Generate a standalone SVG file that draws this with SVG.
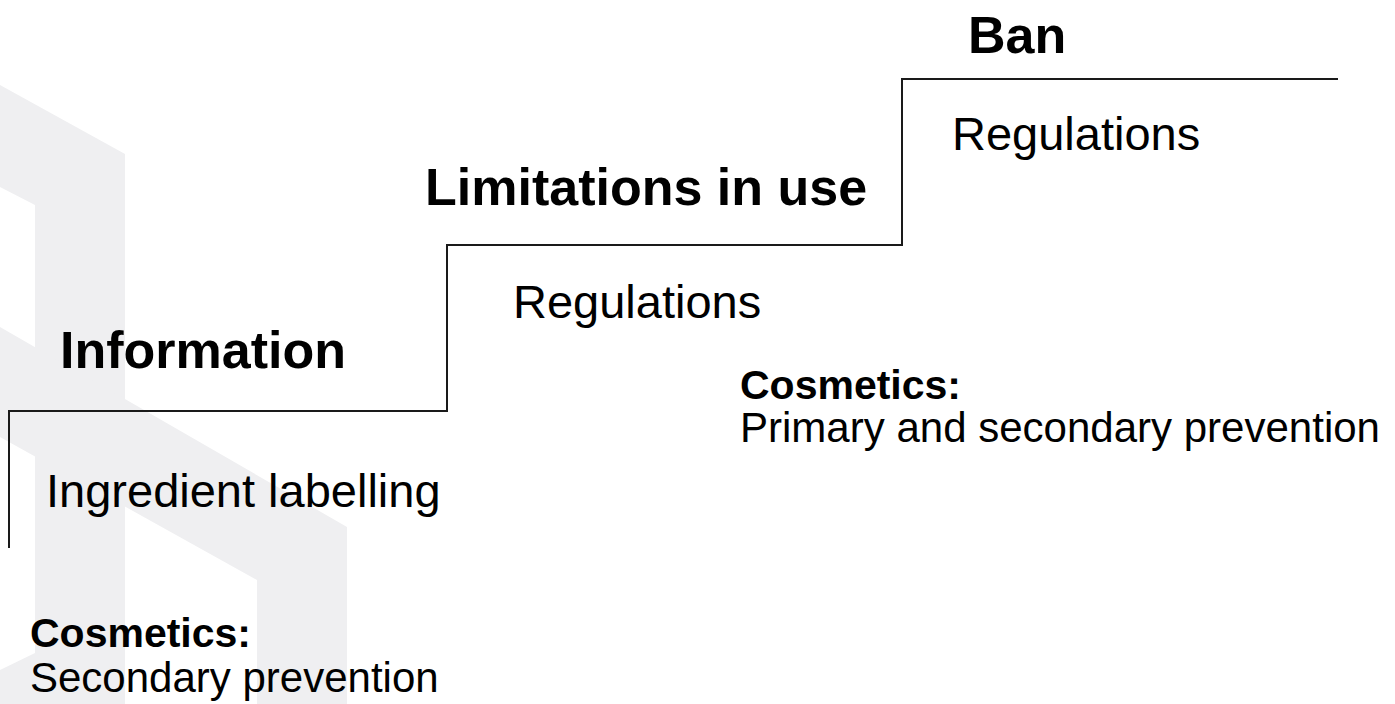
<svg xmlns="http://www.w3.org/2000/svg" width="1395" height="704" viewBox="0 0 1395 704">
<style>
.wm{fill:#efeff1}
.h{font-family:"Liberation Sans",Arial,sans-serif;font-weight:bold;font-size:52px;fill:#000}
.r{font-family:"Liberation Sans",Arial,sans-serif;font-size:47px;fill:#000}
.sb{font-family:"Liberation Sans",Arial,sans-serif;font-weight:bold;font-size:41px;fill:#000}
.s{font-family:"Liberation Sans",Arial,sans-serif;font-size:42px;fill:#000}
.step{fill:none;stroke:#1a1a1a;stroke-width:2}
</style>
<rect width="1395" height="704" fill="#fff"/>
<g id="watermark">
<polygon class="wm" points="0,85 125,154 125,704 35,704 35,205 0,187"/>
<polygon class="wm" points="0,327 347,527 347,704 257,704 257,580 0,437"/>
<polygon class="wm" points="0,670 35,653 35,704 0,704"/>
</g>
<g id="connectors">
<polyline class="step" points="9,548 9,411 447,411 447,245 902,245 902,79 1338,79"/>
</g>
<g id="ban">
<text class="h" x="968" y="53">Ban</text>
<text class="r" x="952" y="150">Regulations</text>
</g>
<g id="limitations">
<text class="h" x="425" y="205">Limitations in use</text>
<text class="r" x="513" y="318">Regulations</text>
<text class="sb" x="740" y="399">Cosmetics:</text>
<text class="s" x="740" y="442" textLength="640" lengthAdjust="spacingAndGlyphs">Primary and secondary prevention</text>
</g>
<g id="information">
<text class="h" x="60" y="368">Information</text>
<text class="r" x="46" y="507">Ingredient labelling</text>
<text class="sb" x="30" y="647">Cosmetics:</text>
<text class="s" x="30" y="692">Secondary prevention</text>
</g>
</svg>
